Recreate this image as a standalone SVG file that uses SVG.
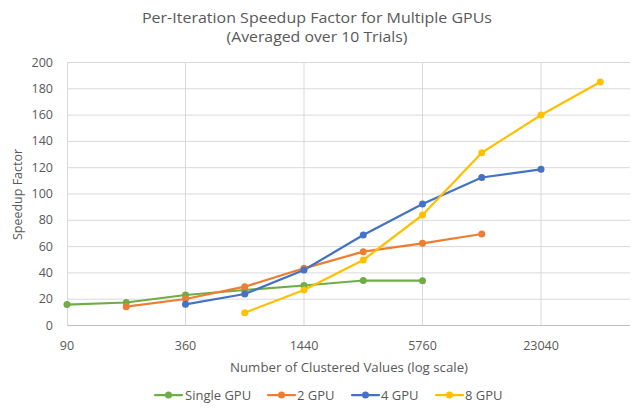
<svg xmlns="http://www.w3.org/2000/svg" width="634" height="410" viewBox="0 0 634 410">
<style>
text{font-family:"Open Sans","Liberation Sans",sans-serif;fill:#595959}
.t{font-size:15px}
.tk{font-size:12.5px}
.ax{font-size:12.5px}
.lg{font-size:13px}
.grid{stroke:#D9D9D9;stroke-width:1}
.s{fill:none;stroke-width:2.25;stroke-linejoin:round;stroke-linecap:round}
.g{stroke:#70AD47}.o{stroke:#ED7D31}.b{stroke:#4472C4}.y{stroke:#FFC000}
.gf{fill:#70AD47}.of{fill:#ED7D31}.bf{fill:#4472C4}.yf{fill:#FFC000}
</style>
<rect width="634" height="410" fill="#FFFFFF"/>
<g id="title">
<text class="t" x="317" y="22.5" text-anchor="middle" textLength="350" lengthAdjust="spacingAndGlyphs">Per-Iteration Speedup Factor for Multiple GPUs</text>
<text class="t" x="317" y="42" text-anchor="middle" textLength="181" lengthAdjust="spacingAndGlyphs">(Averaged over 10 Trials)</text>
</g>
<g id="gridlines">
<path class="grid" d="M67 62.5H630M67 88.8H630M67 115.1H630M67 141.4H630M67 167.7H630M67 194H630M67 220.3H630M67 246.6H630M67 272.9H630M67 299.2H630"/>
<path class="grid" d="M67.5 62V325M185.5 62V325M304 62V325M422.5 62V325M541 62V325"/>
<path d="M67 325.5H630" stroke="#BFBFBF" stroke-width="1"/>
</g>
<g id="y-axis">
<text class="tk" x="53" y="329.5" text-anchor="end">0</text>
<text class="tk" x="53" y="303.2" text-anchor="end">20</text>
<text class="tk" x="53" y="276.9" text-anchor="end">40</text>
<text class="tk" x="53" y="250.6" text-anchor="end">60</text>
<text class="tk" x="53" y="224.3" text-anchor="end">80</text>
<text class="tk" x="53" y="198" text-anchor="end">100</text>
<text class="tk" x="53" y="171.7" text-anchor="end">120</text>
<text class="tk" x="53" y="145.4" text-anchor="end">140</text>
<text class="tk" x="53" y="119.1" text-anchor="end">160</text>
<text class="tk" x="53" y="92.8" text-anchor="end">180</text>
<text class="tk" x="53" y="66.5" text-anchor="end">200</text>
<text class="ax" transform="translate(22 194.5) rotate(-90)" text-anchor="middle">Speedup Factor</text>
</g>
<g id="x-axis">
<text class="tk" x="67" y="349.5" text-anchor="middle">90</text>
<text class="tk" x="185.5" y="349.5" text-anchor="middle">360</text>
<text class="tk" x="304" y="349.5" text-anchor="middle">1440</text>
<text class="tk" x="422.5" y="349.5" text-anchor="middle">5760</text>
<text class="tk" x="541" y="349.5" text-anchor="middle">23040</text>
<text class="ax" x="349" y="372" text-anchor="middle" textLength="238" lengthAdjust="spacingAndGlyphs">Number of Clustered Values (log scale)</text>
</g>
<g id="connectors">
<polyline class="s g" points="67,304.6 126.25,302.5 185.5,295 244.75,290 304,285.5 363.25,280.5 422.5,280.7"/>
<polyline class="s o" points="126.25,306.7 185.5,299 244.75,286.7 304,268.3 363.25,251.7 422.5,243.3 481.75,234"/>
<polyline class="s b" points="185.5,304.3 244.75,294 304,270 363.25,235 422.5,204 481.75,177.5 541,169.3"/>
<polyline class="s y" points="244.75,312.7 304,290 363.25,260 422.5,215 481.75,152.7 541,115 600.25,82"/>
</g>
<g id="series-single-gpu" class="gf">
<circle cx="67" cy="304.6" r="3.5"/><circle cx="126.25" cy="302.5" r="3.5"/><circle cx="185.5" cy="295" r="3.5"/><circle cx="244.75" cy="290" r="3.5"/><circle cx="304" cy="285.5" r="3.5"/><circle cx="363.25" cy="280.5" r="3.5"/><circle cx="422.5" cy="280.7" r="3.5"/>
</g>
<g id="series-2-gpu" class="of">
<circle cx="126.25" cy="306.7" r="3.5"/><circle cx="185.5" cy="299" r="3.5"/><circle cx="244.75" cy="286.7" r="3.5"/><circle cx="304" cy="268.3" r="3.5"/><circle cx="363.25" cy="251.7" r="3.5"/><circle cx="422.5" cy="243.3" r="3.5"/><circle cx="481.75" cy="234" r="3.5"/>
</g>
<g id="series-4-gpu" class="bf">
<circle cx="185.5" cy="304.3" r="3.5"/><circle cx="244.75" cy="294" r="3.5"/><circle cx="304" cy="270" r="3.5"/><circle cx="363.25" cy="235" r="3.5"/><circle cx="422.5" cy="204" r="3.5"/><circle cx="481.75" cy="177.5" r="3.5"/><circle cx="541" cy="169.3" r="3.5"/>
</g>
<g id="series-8-gpu" class="yf">
<circle cx="244.75" cy="312.7" r="3.5"/><circle cx="304" cy="290" r="3.5"/><circle cx="363.25" cy="260" r="3.5"/><circle cx="422.5" cy="215" r="3.5"/><circle cx="481.75" cy="152.7" r="3.5"/><circle cx="541" cy="115" r="3.5"/><circle cx="600.25" cy="82" r="3.5"/>
</g>
<g id="legend">
<line class="s g" x1="155" y1="395" x2="182" y2="395"/><circle class="gf" cx="168.5" cy="395" r="3.5"/>
<text class="lg" x="185" y="399.5">Single GPU</text>
<line class="s o" x1="268" y1="395" x2="295" y2="395"/><circle class="of" cx="281.5" cy="395" r="3.5"/>
<text class="lg" x="297" y="399.5">2 GPU</text>
<line class="s b" x1="352" y1="395" x2="379" y2="395"/><circle class="bf" cx="365.5" cy="395" r="3.5"/>
<text class="lg" x="381" y="399.5">4 GPU</text>
<line class="s y" x1="436" y1="395" x2="463" y2="395"/><circle class="yf" cx="449.5" cy="395" r="3.5"/>
<text class="lg" x="465" y="399.5">8 GPU</text>
</g>
</svg>
